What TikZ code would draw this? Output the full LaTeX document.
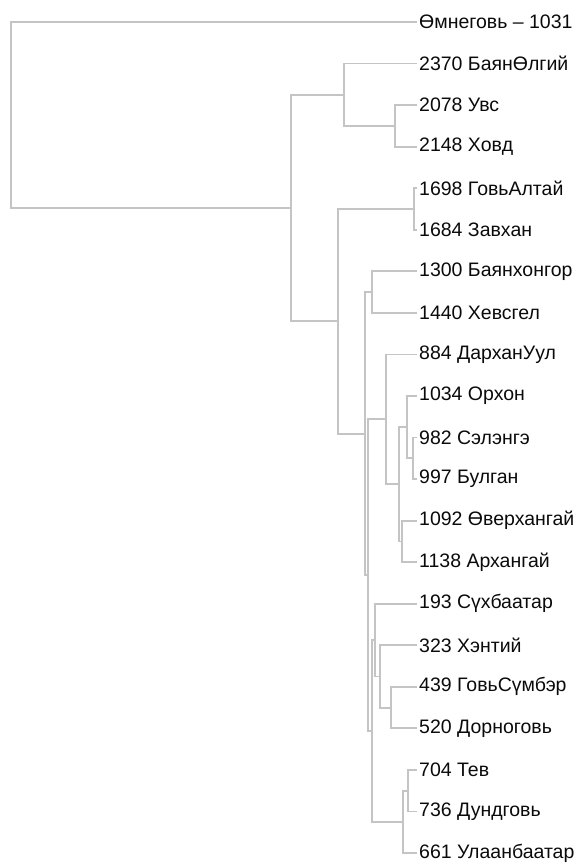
\documentclass[tikz,border=0pt]{standalone}
\usepackage{fontspec}
\setmainfont{Liberation Sans}
\usepackage{xcolor}
\definecolor{dgLine}{RGB}{196,196,196}
\definecolor{dgText}{RGB}{10,10,10}

\begin{document}
\begin{tikzpicture}[x=1pt,y=-1pt,
    branch/.style={draw=dgLine,line width=1.8pt},
    leaf/.style={anchor=west,inner sep=2pt,text=dgText,font=\fontsize{19.5}{22}\selectfont}]
    \useasboundingbox (0,0) rectangle (584,865);

    % Leaves (aimag labels)
    \node[leaf] (omnogovi) at (417,22) {Өмнеговь – 1031};
    \node[leaf] (bayanolgii) at (417,63.55) {2370 БаянӨлгий};
    \node[leaf] (uvs) at (417,105.1) {2078 Увс};
    \node[leaf] (khovd) at (417,146.65) {2148 Ховд};
    \node[leaf] (goviAltai) at (417,188.2) {1698 ГовьАлтай};
    \node[leaf] (zavkhan) at (417,229.75) {1684 Завхан};
    \node[leaf] (bayankhongor) at (417,271.3) {1300 Баянхонгор};
    \node[leaf] (khovsgol) at (417,312.85) {1440 Хевсгел};
    \node[leaf] (darkhanUul) at (417,354.4) {884 ДарханУул};
    \node[leaf] (orkhon) at (417,395.95) {1034 Орхон};
    \node[leaf] (selenge) at (417,437.5) {982 Сэлэнгэ};
    \node[leaf] (bulgan) at (417,479.05) {997 Булган};
    \node[leaf] (ovorkhangai) at (417,520.6) {1092 Өверхангай};
    \node[leaf] (arkhangai) at (417,562.15) {1138 Архангай};
    \node[leaf] (sukhbaatar) at (417,603.7) {193 Сүхбаатар};
    \node[leaf] (khentii) at (417,645.25) {323 Хэнтий};
    \node[leaf] (goviSumber) at (417,686.8) {439 ГовьСүмбэр};
    \node[leaf] (dornogovi) at (417,728.35) {520 Дорноговь};
    \node[leaf] (tov) at (417,769.9) {704 Тев};
    \node[leaf] (dundgovi) at (417,811.45) {736 Дундговь};
    \node[leaf] (ulaanbaatar) at (417,853) {661 Улаанбаатар};

    % Joins
    \coordinate (jRoot) at (11,115);
    \coordinate (jWest) at (291,208);
    \coordinate (jFarWest) at (344,94.7);
    \coordinate (jUvsKhovd) at (395,125.9);
    \coordinate (jRest) at (338,321.3);
    \coordinate (jGoviAltai) at (414,209);
    \coordinate (jCentre) at (365,433.6);
    \coordinate (jKhangai) at (372,292.1);
    \coordinate (jEastCentre) at (368,575.15);
    \coordinate (jNorth) at (386,419.35);
    \coordinate (jNorthIn) at (399,484.3);
    \coordinate (jOrkhon) at (407,427.1);
    \coordinate (jSelenge) at (413,458.3);
    \coordinate (jOvor) at (402,541.4);
    \coordinate (jEastSouth) at (372,730.95);
    \coordinate (jEast) at (375,640.05);
    \coordinate (jKhentii) at (380,676.4);
    \coordinate (jGobi) at (391,707.6);
    \coordinate (jCapital) at (403,821.85);
    \coordinate (jTov) at (408,790.7);

    % Branches
    \draw[branch] (jRoot) |- (omnogovi.west);
    \draw[branch] (jRoot) |- (jWest);
    \draw[branch] (jWest) |- (jFarWest);
    \draw[branch] (jWest) |- (jRest);
    \draw[branch] (jFarWest) |- (bayanolgii.west);
    \draw[branch] (jFarWest) |- (jUvsKhovd);
    \draw[branch] (jUvsKhovd) |- (uvs.west);
    \draw[branch] (jUvsKhovd) |- (khovd.west);
    \draw[branch] (jRest) |- (jGoviAltai);
    \draw[branch] (jRest) |- (jCentre);
    \draw[branch] (jGoviAltai) |- (goviAltai.west);
    \draw[branch] (jGoviAltai) |- (zavkhan.west);
    \draw[branch] (jCentre) |- (jKhangai);
    \draw[branch] (jCentre) |- (jEastCentre);
    \draw[branch] (jKhangai) |- (bayankhongor.west);
    \draw[branch] (jKhangai) |- (khovsgol.west);
    \draw[branch] (jEastCentre) |- (jNorth);
    \draw[branch] (jEastCentre) |- (jEastSouth);
    \draw[branch] (jNorth) |- (darkhanUul.west);
    \draw[branch] (jNorth) |- (jNorthIn);
    \draw[branch] (jNorthIn) |- (jOrkhon);
    \draw[branch] (jNorthIn) |- (jOvor);
    \draw[branch] (jOrkhon) |- (orkhon.west);
    \draw[branch] (jOrkhon) |- (jSelenge);
    \draw[branch] (jSelenge) |- (selenge.west);
    \draw[branch] (jSelenge) |- (bulgan.west);
    \draw[branch] (jOvor) |- (ovorkhangai.west);
    \draw[branch] (jOvor) |- (arkhangai.west);
    \draw[branch] (jEastSouth) |- (jEast);
    \draw[branch] (jEastSouth) |- (jCapital);
    \draw[branch] (jEast) |- (sukhbaatar.west);
    \draw[branch] (jEast) |- (jKhentii);
    \draw[branch] (jKhentii) |- (khentii.west);
    \draw[branch] (jKhentii) |- (jGobi);
    \draw[branch] (jGobi) |- (goviSumber.west);
    \draw[branch] (jGobi) |- (dornogovi.west);
    \draw[branch] (jCapital) |- (jTov);
    \draw[branch] (jCapital) |- (ulaanbaatar.west);
    \draw[branch] (jTov) |- (tov.west);
    \draw[branch] (jTov) |- (dundgovi.west);
\end{tikzpicture}
\end{document}
